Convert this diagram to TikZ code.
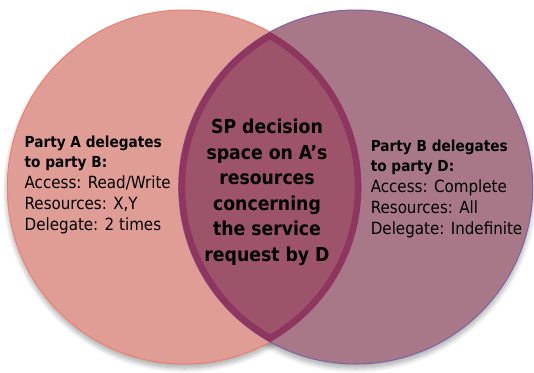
\documentclass[tikz,border=0pt]{standalone}
\usepackage{fontspec}
\setmainfont{DejaVu Sans Condensed}
\usetikzlibrary{shadows.blur}
\definecolor{lfill}{HTML}{E09D95}
\definecolor{lline}{HTML}{EE7E70}
\definecolor{rfill}{HTML}{A87889}
\definecolor{rline}{HTML}{7C62A8}
\definecolor{cfill}{HTML}{9D5369}
\definecolor{cline}{HTML}{8F3660}
\newcommand{\hd}[1]{{\fontsize{15.2}{20.7}\selectfont\bfseries #1}}
\tikzset{
  sidetext/.style={align=left, inner sep=0pt, anchor=north west, font=\fontsize{16.8}{20.7}\selectfont, text=black},
  centertext/.style={align=center, inner sep=0pt, anchor=north, font=\fontsize{19.2}{25.5}\selectfont\bfseries, text=black},
  shad/.style={blur shadow={shadow xshift=0pt, shadow yshift=-4pt, shadow blur steps=10, shadow blur radius=5pt, shadow opacity=35}}
}
\begin{document}
\begin{tikzpicture}[x=1pt,y=-1pt]
\useasboundingbox (0,0) rectangle (534,372);
\coordinate (cl) at (184.3,187);
\coordinate (cr) at (355.7,187);
% shadows
\path[shad] (cl) circle[radius=177];
\path[shad] (cr) circle[radius=177];
% circles
\filldraw[fill=lfill, draw=lline, line width=1pt] (cl) circle[radius=177];
\filldraw[fill=rfill, draw=rline, line width=1pt] (cr) circle[radius=177];
% lens
\begin{scope}
  \clip (cl) circle[radius=177];
  \clip (cr) circle[radius=177];
  \fill[cfill] (cr) circle[radius=177];
  \draw[cline, line width=13pt] (cl) circle[radius=177];
  \draw[cline, line width=13pt] (cr) circle[radius=177];
\end{scope}
% texts
\node[sidetext] (ta) at (24.5,135.5) {\hd{Party A delegates}\\\hd{to party B:}\\Access: Read/Write\\Resources: X,Y\\Delegate: 2 times};
\node[sidetext] (tb) at (370.6,139.5) {\hd{Party B delegates}\\\hd{to party D:}\\Access: Complete\\Resources: All\\Delegate: Indefinite};
\node[centertext] (tc) at (267,119) {SP decision\\space on A’s\\resources\\concerning\\the service\\request by D};
\end{tikzpicture}
\end{document}
